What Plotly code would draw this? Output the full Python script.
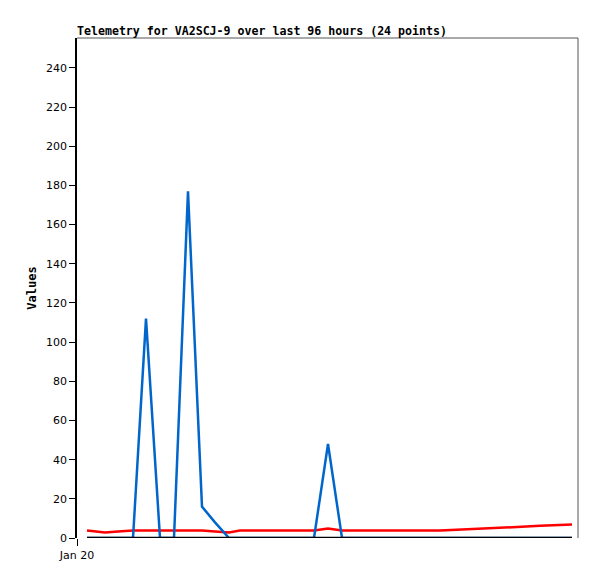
import plotly.graph_objects as go

times = [
    "2024-01-20 01:40", "2024-01-20 03:10", "2024-01-20 04:40", "2024-01-20 06:50",
    "2024-01-20 09:20", "2024-01-20 11:30", "2024-01-20 13:50", "2024-01-20 16:10",
    "2024-01-20 18:30", "2024-01-20 20:50", "2024-01-20 23:00", "2024-01-21 01:20",
    "2024-01-21 03:10", "2024-01-21 08:20", "2024-01-21 15:30", "2024-01-21 17:50",
    "2024-01-21 20:10", "2024-01-22 04:10", "2024-01-22 12:30", "2024-01-22 16:10",
    "2024-01-22 19:50", "2024-01-22 23:30", "2024-01-23 05:10", "2024-01-23 10:30",
]
red_values = [3.8, 3.3, 2.8, 3.3, 3.8, 3.8, 3.8, 3.8, 3.8, 3.8, 3.3, 2.8,
              3.8, 3.8, 3.8, 4.9, 3.8, 3.8, 3.8, 4.3, 4.9, 5.5, 6.2, 6.9]
blue_values = [0, 0, 0, 0, 0, 112, 0, 0, 177, 16, 8, 0,
               0, 0, 0, 48, 0, 0, 0, 0, 0, 0, 0, 0]
black_values = [0] * 24

x_range = ["2024-01-20 00:00", "2024-01-23 11:30"]
y_ticks = [0, 20, 40, 60, 80, 100, 120, 140, 160, 180, 200, 220, 240]

# page body has an 8px margin; figure is sized/offset to compensate
W, H = 581, 563

fig = go.Figure()
fig.add_trace(go.Scatter(x=times, y=red_values, mode="lines",
                         line=dict(color="#ff0000", width=2.5)))
fig.add_trace(go.Scatter(x=times, y=blue_values, mode="lines",
                         line=dict(color="#0066cc", width=2.5)))
fig.add_trace(go.Scatter(x=times, y=black_values, mode="lines",
                         line=dict(color="#000000", width=2.5)))

fig.update_layout(
    width=W, height=H,
    margin=dict(l=69, r=11, t=30, b=33),
    paper_bgcolor="white", plot_bgcolor="white",
    showlegend=False,
    title=dict(text="<b>Telemetry for VA2SCJ-9 over last 96 hours (24 points)</b>",
               x=69/W, xanchor="left", y=1 - 23/H, yanchor="middle",
               font=dict(family="DejaVu Sans Mono", size=11.6, color="black")),
    xaxis=dict(range=x_range, type="date", showgrid=False, zeroline=False,
               automargin=False,
               showline=False, ticks="outside", ticklen=7, tickcolor="black",
               tickvals=["2024-01-20 00:00"], ticktext=["Jan 20"],
               tickfont=dict(family="DejaVu Sans", size=11, color="black")),
    yaxis=dict(range=[0, 255.3], showgrid=False, zeroline=False,
               automargin=False,
               showline=True, linecolor="black", linewidth=1.5,
               ticks="outside", ticklen=6, tickcolor="black",
               tickvals=y_ticks,
               tickfont=dict(family="DejaVu Sans", size=11, color="black"),
               title=dict(text="<b>Values</b>", standoff=7,
                          font=dict(family="DejaVu Sans Mono", size=12, color="black"))),
    shapes=[
        dict(type="line", xref="paper", yref="paper", x0=0, x1=1, y0=1, y1=1,
             line=dict(color="#555555", width=1)),
        dict(type="line", xref="paper", yref="paper", x0=1, x1=1, y0=0, y1=1,
             line=dict(color="#555555", width=1)),
    ],
)

fig.write_html("out.html")
